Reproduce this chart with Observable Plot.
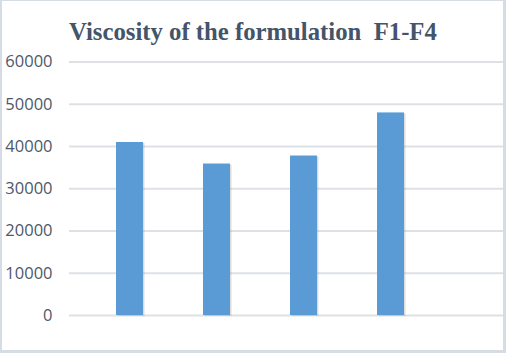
<!DOCTYPE html>
<html>
<head>
<meta charset="utf-8">
<script src="https://cdn.jsdelivr.net/npm/d3@7"></script>
<script src="https://cdn.jsdelivr.net/npm/@observablehq/plot@0.6"></script>
<style>
  html, body { margin: 0; padding: 0; background: #fff; }
  #wrap { position: relative; width: 506px; height: 353px; box-sizing: border-box; overflow: hidden; }
  #frame { position: absolute; left: 0; top: 0; width: 506px; height: 353px; box-sizing: border-box;
           border-left: 2px solid #D6DCE4; border-top: 1px solid #D6DCE4; border-right: 3px solid #D6DCE4; border-bottom: 3px solid #D6DCE4; pointer-events: none; }
  #title { position: absolute; left: 69px; top: 14px; height: 36px; margin: 0;
           font-family: "Liberation Serif", "Times New Roman", serif; font-weight: bold; font-size: 26px;
           color: #44546A; white-space: nowrap; line-height: 36px; transform-origin: left center; }
  #chart { position: absolute; left: 0; top: 50px; }
</style>
</head>
<body>
<div id="wrap">
  <div id="title">Viscosity of the formulation&nbsp; F1-F4</div>
  <div id="chart"></div>
  <div id="frame"></div>
</div>
<script>
const categories = ["F1", "F2", "F3", "F4"];
const viscosity = [40950, 35850, 37750, 47950];
const yTicks = [0, 10000, 20000, 30000, 40000, 50000, 60000];

const data = categories.map((c, i) => ({ formulation: c, value: viscosity[i] }));

const chart = Plot.plot({
  width: 506,
  height: 303,
  marginLeft: 69,
  marginRight: 3,
  marginTop: 11.5,
  marginBottom: 38,
  style: { fontFamily: "'Open Sans', 'Liberation Sans', sans-serif", fontSize: "16.5px", color: "#4E5869", background: "transparent" },
  x: { type: "band", domain: categories, range: [116, 404], paddingInner: 0.69, paddingOuter: 0, axis: null },
  y: { domain: [0, 60000], ticks: yTicks, tickFormat: d => String(d), tickSize: 0, tickPadding: 17, label: null },
  marks: [
    Plot.ruleY(yTicks, { stroke: "#DDE1E6", strokeWidth: 2 }),
    Plot.barY(data, { x: "formulation", y: "value", fill: "#8c8c8c", dx: 1.5, dy: 1, fillOpacity: 0.3 }),
    Plot.barY(data, { x: "formulation", y: "value", fill: "#5B9BD5" })
  ]
});
document.getElementById("chart").appendChild(chart);

const t = document.getElementById("title");
const w = t.scrollWidth;
t.style.transform = `scaleX(${368 / w})`;
</script>
</body>
</html>
